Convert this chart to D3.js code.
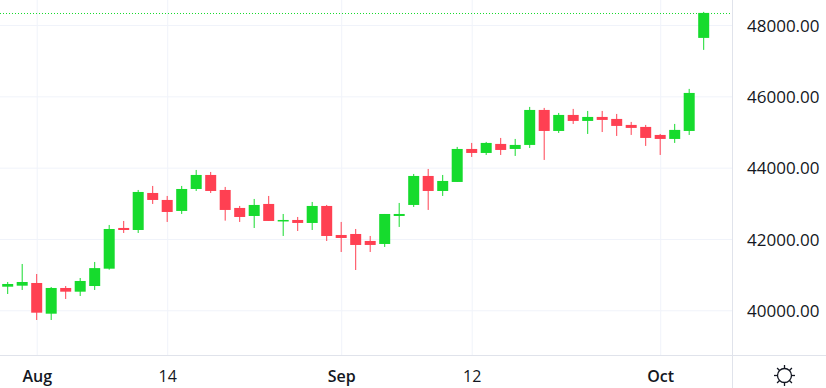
<!DOCTYPE html>
<html>
<head>
<meta charset="utf-8">
<script src="https://cdn.jsdelivr.net/npm/d3@7"></script>
<style>
    html, body { margin: 0; padding: 0; background: #fff; overflow: hidden; }
    text { font-family: "Open Sans", sans-serif; fill: #131722; }
    .axis .domain { display: none; }
    .grid line { stroke: #f0f3fa; stroke-width: 1; }
    .grid text { display: none; }
    .grid .domain { display: none; }
</style>
</head>
<body>
<div id="chart"></div>
<script>
    var open = [40662, 40690, 40766, 39905, 40626, 40522, 40681, 41167, 42309, 42252, 43290, 43094, 42786,
        43402, 43795, 43374, 42870, 42645, 42982, 42505, 42533, 42449, 42926, 42112, 42140, 41944, 41860,
        42645, 42954, 43767, 43346, 43599, 44524, 44412, 44665, 44524, 44637, 45618, 45029, 45478, 45310,
        45422, 45366, 45198, 45142, 44917, 44805, 45029, 47638];
    var close = [40738, 40794, 39933, 40626, 40522, 40822, 41183, 42280, 42252, 43318, 43094, 42757, 43402,
        43795, 43346, 42814, 42617, 42954, 42505, 42533, 42449, 42926, 42084, 42028, 41832, 41832, 42701,
        42701, 43767, 43346, 43627, 44524, 44412, 44693, 44496, 44637, 45618, 45029, 45478, 45310, 45422,
        45338, 45170, 45114, 44833, 44805, 45058, 46095, 48339];
    var high = [40794, 41299, 41018, 40654, 40681, 40906, 41355, 42393, 42505, 43374, 43487, 43206, 43487,
        43935, 43879, 43459, 42926, 43122, 43206, 42701, 42617, 43038, 42954, 42477, 42280, 42084, 42701,
        43010, 43823, 43963, 43795, 44581, 44693, 44721, 44833, 44805, 45703, 45675, 45534, 45647, 45590,
        45590, 45506, 45282, 45198, 44945, 45226, 46208, 48367];
    var low = [40457, 40570, 39728, 39728, 40317, 40401, 40570, 41139, 42168, 42168, 42982, 42477, 42701,
        43346, 43290, 42514, 42477, 42308, 42505, 42084, 42224, 42252, 41944, 41635, 41130, 41635, 41776,
        42337, 42898, 42814, 43206, 43599, 44300, 44356, 44356, 44328, 44552, 44216, 44973, 45225, 44945,
        44999, 44889, 44917, 44609, 44356, 44693, 44917, 47302];

    var priceTicks = [40000, 42000, 44000, 46000, 48000];
    var timeTickIndex = [2, 11, 23, 32, 45];
    var timeTickLabels = ['Aug', '14', 'Sep', '12', 'Oct'];
    var lastPrice = 48339;

    var width = 826, height = 388,
        plotRight = 732.5, plotBottom = 355.5;

    var xScale = d3.scaleLinear().domain([0, 48]).range([7.7, 703.7]);
    var yScale = d3.scaleLinear().domain([40000, 48000]).range([310.3, 25]);

    var svg = d3.select('#chart').append('svg')
        .attr('width', width)
        .attr('height', height)
        .style('display', 'block');

    // grid
    svg.append('g')
        .attr('class', 'grid')
        .call(d3.axisLeft(yScale).tickValues(priceTicks).tickSize(-plotRight).tickFormat(''));

    svg.append('g')
        .attr('class', 'grid')
        .attr('transform', 'translate(0,' + plotBottom + ')')
        .call(d3.axisBottom(xScale).tickValues(timeTickIndex).tickSize(-plotBottom).tickFormat(''));

    // last price line
    svg.append('line')
        .attr('x1', 0)
        .attr('x2', plotRight)
        .attr('y1', Math.round(yScale(lastPrice)) + 0.5)
        .attr('y2', Math.round(yScale(lastPrice)) + 0.5)
        .attr('stroke', '#16db2d')
        .attr('stroke-width', 1)
        .attr('stroke-dasharray', '1,2');

    // candles
    var upColor = '#16db2d', downColor = '#ff4052';
    var candles = svg.append('g').attr('class', 'series')
        .selectAll('g')
        .data(open.map(function (o, i) {
            return { id: i, open: o, close: close[i], high: high[i], low: low[i] };
        }))
        .enter().append('g');

    candles.append('line')
        .attr('x1', function (d) { return xScale(d.id); })
        .attr('x2', function (d) { return xScale(d.id); })
        .attr('y1', function (d) { return yScale(d.high); })
        .attr('y2', function (d) { return yScale(d.low); })
        .attr('stroke', function (d) { return d.close >= d.open ? upColor : downColor; })
        .attr('stroke-width', 1);

    candles.append('rect')
        .attr('x', function (d) { return xScale(d.id) - 5.5; })
        .attr('width', 11)
        .attr('y', function (d) { return yScale(Math.max(d.open, d.close)); })
        .attr('height', function (d) { return Math.max(1.5, Math.abs(yScale(d.open) - yScale(d.close))); })
        .attr('fill', function (d) { return d.close >= d.open ? upColor : downColor; });

    // axes borders
    svg.append('line')
        .attr('x1', plotRight).attr('x2', plotRight)
        .attr('y1', 0).attr('y2', height)
        .attr('stroke', '#e0e3eb');
    svg.append('line')
        .attr('x1', 0).attr('x2', width)
        .attr('y1', plotBottom).attr('y2', plotBottom)
        .attr('stroke', '#e0e3eb');

    var yAxis = d3.axisRight(yScale)
        .tickValues(priceTicks)
        .tickSize(0)
        .tickPadding(0)
        .tickFormat(function (d) { return d3.format('.2f')(d); });

    svg.append('g')
        .attr('class', 'y axis')
        .attr('transform', 'translate(747,0)')
        .call(yAxis)
        .selectAll('text')
        .style('font-size', '17px')
        .attr('dy', '0.36em');

    var xAxis = d3.axisBottom(xScale)
        .tickValues(timeTickIndex)
        .tickSize(0)
        .tickPadding(0)
        .tickFormat(function (d, i) { return timeTickLabels[i]; });

    svg.append('g')
        .attr('class', 'x axis')
        .attr('transform', 'translate(0,' + (plotBottom + 15) + ')')
        .call(xAxis)
        .selectAll('text')
        .style('font-size', '16px')
        .style('font-weight', function (d, i) { return i % 2 === 0 ? 600 : 500; })
        .attr('dy', '0.71em');

    // settings icon
    var icon = svg.append('g')
        .attr('transform', 'translate(784.5,375.5)')
        .attr('stroke', '#131722')
        .attr('fill', 'none')
        .attr('stroke-width', 1.3);
    icon.append('circle').attr('r', 7);
    d3.range(8).forEach(function (i) {
        var a = i * Math.PI / 4;
        icon.append('line')
            .attr('x1', Math.cos(a) * 7).attr('y1', Math.sin(a) * 7)
            .attr('x2', Math.cos(a) * 10.5).attr('y2', Math.sin(a) * 10.5);
    });
</script>
</body>
</html>
